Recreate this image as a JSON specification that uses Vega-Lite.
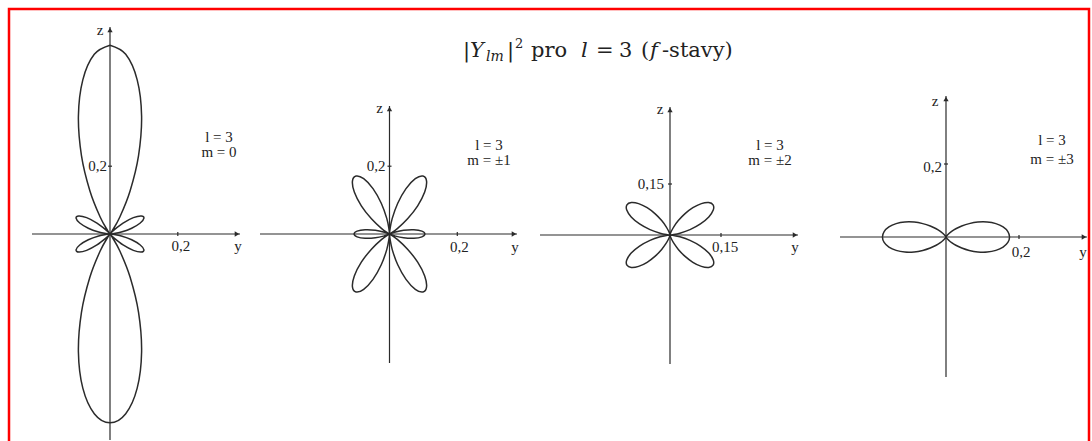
{
  "$schema": "https://vega.github.io/schema/vega-lite/v6.json",
  "width": 1080,
  "height": 440,
  "padding": {"left": 9, "top": 9, "right": 3, "bottom": 0},
  "autosize": {"type": "none"},
  "background": "white",
  "config": {
    "view": {"stroke": "#ff0000", "strokeWidth": 2.5},
    "mark": {"font": "Liberation Serif"},
    "text": {"font": "Liberation Serif", "fontSize": 15, "color": "#222222", "baseline": "middle", "align": "center"},
    "line": {"stroke": "#2b2b2b", "strokeWidth": 1.5, "interpolate": "cardinal"},
    "rule": {"stroke": "#2b2b2b", "strokeWidth": 1.2},
    "point": {"filled": true, "color": "#2b2b2b", "size": 28, "opacity": 1}
  },
  "datasets": {
    "m0": [
      {"k":0,"y":0,"z":0.557},{"k":1,"y":0.0464,"z":0.53},{"k":2,"y":0.0802,"z":0.4548},{"k":3,"y":0.0932,"z":0.348},{"k":4,"y":0.0842,"z":0.2314},{"k":5,"y":0.0592,"z":0.127},{"k":6,"y":0.0294,"z":0.0509},{"k":7,"y":0.0068,"z":0.0097},{"k":8,"y":0.0002,"z":0.0003},{"k":9,"y":0.0123,"z":0.0123},{"k":10,"y":0.0385,"z":0.0323},{"k":11,"y":0.0689,"z":0.0483},{"k":12,"y":0.0923,"z":0.0533},{"k":13,"y":0.1001,"z":0.0467},{"k":14,"y":0.0893,"z":0.0325},{"k":15,"y":0.064,"z":0.0171},{"k":16,"y":0.0336,"z":0.0059},{"k":17,"y":0.0092,"z":0.0008},{"k":18,"y":0,"z":0},
      {"k":19,"y":0.0092,"z":-0.0008},{"k":20,"y":0.0336,"z":-0.0059},{"k":21,"y":0.064,"z":-0.0171},{"k":22,"y":0.0893,"z":-0.0325},{"k":23,"y":0.1001,"z":-0.0467},{"k":24,"y":0.0923,"z":-0.0533},{"k":25,"y":0.0689,"z":-0.0483},{"k":26,"y":0.0385,"z":-0.0323},{"k":27,"y":0.0123,"z":-0.0123},{"k":28,"y":0.0002,"z":-0.0003},{"k":29,"y":0.0068,"z":-0.0097},{"k":30,"y":0.0294,"z":-0.0509},{"k":31,"y":0.0592,"z":-0.127},{"k":32,"y":0.0842,"z":-0.2314},{"k":33,"y":0.0932,"z":-0.348},{"k":34,"y":0.0802,"z":-0.4548},{"k":35,"y":0.0464,"z":-0.53},{"k":36,"y":0,"z":-0.557},
      {"k":37,"y":-0.0464,"z":-0.53},{"k":38,"y":-0.0802,"z":-0.4548},{"k":39,"y":-0.0932,"z":-0.348},{"k":40,"y":-0.0842,"z":-0.2314},{"k":41,"y":-0.0592,"z":-0.127},{"k":42,"y":-0.0294,"z":-0.0509},{"k":43,"y":-0.0068,"z":-0.0097},{"k":44,"y":-0.0002,"z":-0.0003},{"k":45,"y":-0.0123,"z":-0.0123},{"k":46,"y":-0.0385,"z":-0.0323},{"k":47,"y":-0.0689,"z":-0.0483},{"k":48,"y":-0.0923,"z":-0.0533},{"k":49,"y":-0.1001,"z":-0.0467},{"k":50,"y":-0.0893,"z":-0.0325},{"k":51,"y":-0.064,"z":-0.0171},{"k":52,"y":-0.0336,"z":-0.0059},{"k":53,"y":-0.0092,"z":-0.0008},{"k":54,"y":0,"z":0},
      {"k":55,"y":-0.0092,"z":0.0008},{"k":56,"y":-0.0336,"z":0.0059},{"k":57,"y":-0.064,"z":0.0171},{"k":58,"y":-0.0893,"z":0.0325},{"k":59,"y":-0.1001,"z":0.0467},{"k":60,"y":-0.0923,"z":0.0533},{"k":61,"y":-0.0689,"z":0.0483},{"k":62,"y":-0.0385,"z":0.0323},{"k":63,"y":-0.0123,"z":0.0123},{"k":64,"y":-0.0002,"z":0.0003},{"k":65,"y":-0.0068,"z":0.0097},{"k":66,"y":-0.0294,"z":0.0509},{"k":67,"y":-0.0592,"z":0.127},{"k":68,"y":-0.0842,"z":0.2314},{"k":69,"y":-0.0932,"z":0.348},{"k":70,"y":-0.0802,"z":0.4548},{"k":71,"y":-0.0464,"z":0.53},{"k":72,"y":0,"z":0.557}
    ],
    "m1": [
      {"k":0,"y":0,"z":0},{"k":1,"y":0.0011,"z":0.0124},{"k":2,"y":0.0081,"z":0.046},{"k":3,"y":0.0243,"z":0.0908},{"k":4,"y":0.0487,"z":0.1339},{"k":5,"y":0.0761,"z":0.1632},{"k":6,"y":0.0987,"z":0.171},{"k":7,"y":0.1093,"z":0.1561},{"k":8,"y":0.1038,"z":0.1237},{"k":9,"y":0.0831,"z":0.0831},{"k":10,"y":0.0533,"z":0.0448},{"k":11,"y":0.0239,"z":0.0167},{"k":12,"y":0.0042,"z":0.0024},{"k":13,"y":0.0009,"z":0.0004},{"k":14,"y":0.0149,"z":0.0054},{"k":15,"y":0.0416,"z":0.0112},{"k":16,"y":0.0719,"z":0.0127},{"k":17,"y":0.0956,"z":0.0084},{"k":18,"y":0.1044,"z":0},
      {"k":19,"y":0.0956,"z":-0.0084},{"k":20,"y":0.0719,"z":-0.0127},{"k":21,"y":0.0416,"z":-0.0112},{"k":22,"y":0.0149,"z":-0.0054},{"k":23,"y":0.0009,"z":-0.0004},{"k":24,"y":0.0042,"z":-0.0024},{"k":25,"y":0.0239,"z":-0.0167},{"k":26,"y":0.0533,"z":-0.0448},{"k":27,"y":0.0831,"z":-0.0831},{"k":28,"y":0.1038,"z":-0.1237},{"k":29,"y":0.1093,"z":-0.1561},{"k":30,"y":0.0987,"z":-0.171},{"k":31,"y":0.0761,"z":-0.1632},{"k":32,"y":0.0487,"z":-0.1339},{"k":33,"y":0.0243,"z":-0.0908},{"k":34,"y":0.0081,"z":-0.046},{"k":35,"y":0.0011,"z":-0.0124},{"k":36,"y":0,"z":0},
      {"k":37,"y":-0.0011,"z":-0.0124},{"k":38,"y":-0.0081,"z":-0.046},{"k":39,"y":-0.0243,"z":-0.0908},{"k":40,"y":-0.0487,"z":-0.1339},{"k":41,"y":-0.0761,"z":-0.1632},{"k":42,"y":-0.0987,"z":-0.171},{"k":43,"y":-0.1093,"z":-0.1561},{"k":44,"y":-0.1038,"z":-0.1237},{"k":45,"y":-0.0831,"z":-0.0831},{"k":46,"y":-0.0533,"z":-0.0448},{"k":47,"y":-0.0239,"z":-0.0167},{"k":48,"y":-0.0042,"z":-0.0024},{"k":49,"y":-0.0009,"z":-0.0004},{"k":50,"y":-0.0149,"z":-0.0054},{"k":51,"y":-0.0416,"z":-0.0112},{"k":52,"y":-0.0719,"z":-0.0127},{"k":53,"y":-0.0956,"z":-0.0084},{"k":54,"y":-0.1044,"z":0},
      {"k":55,"y":-0.0956,"z":0.0084},{"k":56,"y":-0.0719,"z":0.0127},{"k":57,"y":-0.0416,"z":0.0112},{"k":58,"y":-0.0149,"z":0.0054},{"k":59,"y":-0.0009,"z":0.0004},{"k":60,"y":-0.0042,"z":0.0024},{"k":61,"y":-0.0239,"z":0.0167},{"k":62,"y":-0.0533,"z":0.0448},{"k":63,"y":-0.0831,"z":0.0831},{"k":64,"y":-0.1038,"z":0.1237},{"k":65,"y":-0.1093,"z":0.1561},{"k":66,"y":-0.0987,"z":0.171},{"k":67,"y":-0.0761,"z":0.1632},{"k":68,"y":-0.0487,"z":0.1339},{"k":69,"y":-0.0243,"z":0.0908},{"k":70,"y":-0.0081,"z":0.046},{"k":71,"y":-0.0011,"z":0.0124},{"k":72,"y":0,"z":0}
    ],
    "m2": [
      {"k":0,"y":0,"z":0},{"k":1,"y":0,"z":0.0001},{"k":2,"y":0.0002,"z":0.0009},{"k":3,"y":0.0011,"z":0.0042},{"k":4,"y":0.0043,"z":0.0119},{"k":5,"y":0.0116,"z":0.0248},{"k":6,"y":0.0245,"z":0.0424},{"k":7,"y":0.0435,"z":0.0621},{"k":8,"y":0.0673,"z":0.0802},{"k":9,"y":0.0923,"z":0.0923},{"k":10,"y":0.1138,"z":0.0955},{"k":11,"y":0.1267,"z":0.0887},{"k":12,"y":0.1272,"z":0.0734},{"k":13,"y":0.1141,"z":0.0532},{"k":14,"y":0.0895,"z":0.0326},{"k":15,"y":0.0588,"z":0.0158},{"k":16,"y":0.0292,"z":0.0051},{"k":17,"y":0.0078,"z":0.0007},{"k":18,"y":0,"z":0},
      {"k":19,"y":0.0078,"z":-0.0007},{"k":20,"y":0.0292,"z":-0.0051},{"k":21,"y":0.0588,"z":-0.0158},{"k":22,"y":0.0895,"z":-0.0326},{"k":23,"y":0.1141,"z":-0.0532},{"k":24,"y":0.1272,"z":-0.0734},{"k":25,"y":0.1267,"z":-0.0887},{"k":26,"y":0.1138,"z":-0.0955},{"k":27,"y":0.0923,"z":-0.0923},{"k":28,"y":0.0673,"z":-0.0802},{"k":29,"y":0.0435,"z":-0.0621},{"k":30,"y":0.0245,"z":-0.0424},{"k":31,"y":0.0116,"z":-0.0248},{"k":32,"y":0.0043,"z":-0.0119},{"k":33,"y":0.0011,"z":-0.0042},{"k":34,"y":0.0002,"z":-0.0009},{"k":35,"y":0,"z":-0.0001},{"k":36,"y":0,"z":0},
      {"k":37,"y":0,"z":-0.0001},{"k":38,"y":-0.0002,"z":-0.0009},{"k":39,"y":-0.0011,"z":-0.0042},{"k":40,"y":-0.0043,"z":-0.0119},{"k":41,"y":-0.0116,"z":-0.0248},{"k":42,"y":-0.0245,"z":-0.0424},{"k":43,"y":-0.0435,"z":-0.0621},{"k":44,"y":-0.0673,"z":-0.0802},{"k":45,"y":-0.0923,"z":-0.0923},{"k":46,"y":-0.1138,"z":-0.0955},{"k":47,"y":-0.1267,"z":-0.0887},{"k":48,"y":-0.1272,"z":-0.0734},{"k":49,"y":-0.1141,"z":-0.0532},{"k":50,"y":-0.0895,"z":-0.0326},{"k":51,"y":-0.0588,"z":-0.0158},{"k":52,"y":-0.0292,"z":-0.0051},{"k":53,"y":-0.0078,"z":-0.0007},{"k":54,"y":0,"z":0},
      {"k":55,"y":-0.0078,"z":0.0007},{"k":56,"y":-0.0292,"z":0.0051},{"k":57,"y":-0.0588,"z":0.0158},{"k":58,"y":-0.0895,"z":0.0326},{"k":59,"y":-0.1141,"z":0.0532},{"k":60,"y":-0.1272,"z":0.0734},{"k":61,"y":-0.1267,"z":0.0887},{"k":62,"y":-0.1138,"z":0.0955},{"k":63,"y":-0.0923,"z":0.0923},{"k":64,"y":-0.0673,"z":0.0802},{"k":65,"y":-0.0435,"z":0.0621},{"k":66,"y":-0.0245,"z":0.0424},{"k":67,"y":-0.0116,"z":0.0248},{"k":68,"y":-0.0043,"z":0.0119},{"k":69,"y":-0.0011,"z":0.0042},{"k":70,"y":-0.0002,"z":0.0009},{"k":71,"y":0,"z":0.0001},{"k":72,"y":0,"z":0}
    ],
    "m3": [
      {"k":0,"y":0,"z":0},{"k":1,"y":0,"z":0.0001},{"k":2,"y":0.0001,"z":0.0003},{"k":3,"y":0.0004,"z":0.0009},{"k":4,"y":0.0014,"z":0.0024},{"k":5,"y":0.0036,"z":0.0051},{"k":6,"y":0.0079,"z":0.0094},{"k":7,"y":0.0154,"z":0.0154},{"k":8,"y":0.0269,"z":0.0226},{"k":9,"y":0.0431,"z":0.0302},{"k":10,"y":0.0636,"z":0.0367},{"k":11,"y":0.0874,"z":0.0408},{"k":12,"y":0.1126,"z":0.041},{"k":13,"y":0.1366,"z":0.0366},{"k":14,"y":0.1564,"z":0.0276},{"k":15,"y":0.1695,"z":0.0148},{"k":16,"y":0.1741,"z":0},
      {"k":17,"y":0.1695,"z":-0.0148},{"k":18,"y":0.1564,"z":-0.0276},{"k":19,"y":0.1366,"z":-0.0366},{"k":20,"y":0.1126,"z":-0.041},{"k":21,"y":0.0874,"z":-0.0408},{"k":22,"y":0.0636,"z":-0.0367},{"k":23,"y":0.0431,"z":-0.0302},{"k":24,"y":0.0269,"z":-0.0226},{"k":25,"y":0.0154,"z":-0.0154},{"k":26,"y":0.0079,"z":-0.0094},{"k":27,"y":0.0036,"z":-0.0051},{"k":28,"y":0.0014,"z":-0.0024},{"k":29,"y":0.0004,"z":-0.0009},{"k":30,"y":0.0001,"z":-0.0003},{"k":31,"y":0,"z":-0.0001},{"k":32,"y":0,"z":0},
      {"k":33,"y":0,"z":-0.0001},{"k":34,"y":-0.0001,"z":-0.0003},{"k":35,"y":-0.0004,"z":-0.0009},{"k":36,"y":-0.0014,"z":-0.0024},{"k":37,"y":-0.0036,"z":-0.0051},{"k":38,"y":-0.0079,"z":-0.0094},{"k":39,"y":-0.0154,"z":-0.0154},{"k":40,"y":-0.0269,"z":-0.0226},{"k":41,"y":-0.0431,"z":-0.0302},{"k":42,"y":-0.0636,"z":-0.0367},{"k":43,"y":-0.0874,"z":-0.0408},{"k":44,"y":-0.1126,"z":-0.041},{"k":45,"y":-0.1366,"z":-0.0366},{"k":46,"y":-0.1564,"z":-0.0276},{"k":47,"y":-0.1695,"z":-0.0148},{"k":48,"y":-0.1741,"z":0},
      {"k":49,"y":-0.1695,"z":0.0148},{"k":50,"y":-0.1564,"z":0.0276},{"k":51,"y":-0.1366,"z":0.0366},{"k":52,"y":-0.1126,"z":0.041},{"k":53,"y":-0.0874,"z":0.0408},{"k":54,"y":-0.0636,"z":0.0367},{"k":55,"y":-0.0431,"z":0.0302},{"k":56,"y":-0.0269,"z":0.0226},{"k":57,"y":-0.0154,"z":0.0154},{"k":58,"y":-0.0079,"z":0.0094},{"k":59,"y":-0.0036,"z":0.0051},{"k":60,"y":-0.0014,"z":0.0024},{"k":61,"y":-0.0004,"z":0.0009},{"k":62,"y":-0.0001,"z":0.0003},{"k":63,"y":0,"z":0.0001},{"k":64,"y":0,"z":0}
    ]
  },
  "layer": [
    {
      "data": {"values": [{}]},
      "layer": [
        {"data": {"name": "m0"}, "mark": "line", "encoding": {
          "x": {"field": "y", "type": "quantitative", "scale": {"domain": [-0.29794, 2.88791], "nice": false, "zero": false}, "axis": null},
          "y": {"field": "z", "type": "quantitative", "scale": {"domain": [-0.63422, 0.66372], "nice": false, "zero": false}, "axis": null},
          "order": {"field": "k"}}},
        {"mark": "rule", "encoding": {
          "x": {"datum": -0.2301, "type": "quantitative", "scale": {"domain": [-0.29794, 2.88791], "nice": false, "zero": false}, "axis": null},
          "x2": {"datum": 0.3835},
          "y": {"datum": 0, "type": "quantitative", "scale": {"domain": [-0.63422, 0.66372], "nice": false, "zero": false}, "axis": null}}},
        {"mark": "rule", "encoding": {
          "x": {"datum": 0, "type": "quantitative"},
          "y": {"datum": -0.6077, "type": "quantitative"},
          "y2": {"datum": 0.6106}}},
        {"mark": {"type": "point", "shape": "triangle-up", "yOffset": 3}, "encoding": {"x": {"datum": 0, "type": "quantitative"}, "y": {"datum": 0.6106, "type": "quantitative"}}},
        {"mark": {"type": "point", "shape": "triangle-right", "xOffset": -3}, "encoding": {"x": {"datum": 0.3835, "type": "quantitative"}, "y": {"datum": 0, "type": "quantitative"}}},
        {"mark": {"type": "rule", "yOffset": -2, "y2Offset": 2}, "encoding": {"x": {"datum": 0.2, "type": "quantitative"}, "y": {"datum": 0, "type": "quantitative"}, "y2": {"datum": 0}}},
        {"mark": {"type": "rule", "xOffset": -2, "x2Offset": 2}, "encoding": {"x": {"datum": 0, "type": "quantitative"}, "x2": {"datum": 0}, "y": {"datum": 0.2, "type": "quantitative"}}},
        {"mark": {"type": "text", "text": "z", "dx": -10, "dy": 3}, "encoding": {"x": {"datum": 0, "type": "quantitative"}, "y": {"datum": 0.6106, "type": "quantitative"}}},
        {"mark": {"type": "text", "text": "y", "dx": -2, "dy": 12}, "encoding": {"x": {"datum": 0.3835, "type": "quantitative"}, "y": {"datum": 0, "type": "quantitative"}}},
        {"mark": {"type": "text", "text": "0,2", "dx": 3, "dy": 12}, "encoding": {"x": {"datum": 0.2, "type": "quantitative"}, "y": {"datum": 0, "type": "quantitative"}}},
        {"mark": {"type": "text", "text": "0,2", "dx": -3, "align": "right"}, "encoding": {"x": {"datum": 0, "type": "quantitative"}, "y": {"datum": 0.2, "type": "quantitative"}}},
        {"mark": {"type": "text", "text": ["l = 3", "m = 0"], "lineHeight": 15}, "encoding": {"x": {"datum": 0.3215, "type": "quantitative"}, "y": {"datum": 0.2861, "type": "quantitative"}}}
      ]
    },
    {
      "data": {"values": [{}]},
      "layer": [
        {"data": {"name": "m1"}, "mark": "line", "encoding": {
          "x": {"field": "y", "type": "quantitative", "scale": {"domain": [-1.12242, 2.06342], "nice": false, "zero": false}, "axis": null},
          "y": {"field": "z", "type": "quantitative", "scale": {"domain": [-0.63422, 0.66372], "nice": false, "zero": false}, "axis": null},
          "order": {"field": "k"}}},
        {"mark": "rule", "encoding": {
          "x": {"datum": -0.382, "type": "quantitative", "scale": {"domain": [-1.12242, 2.06342], "nice": false, "zero": false}, "axis": null},
          "x2": {"datum": 0.3761},
          "y": {"datum": 0, "type": "quantitative", "scale": {"domain": [-0.63422, 0.66372], "nice": false, "zero": false}, "axis": null}}},
        {"mark": "rule", "encoding": {
          "x": {"datum": 0, "type": "quantitative"},
          "y": {"datum": -0.3805, "type": "quantitative"},
          "y2": {"datum": 0.3776}}},
        {"mark": {"type": "point", "shape": "triangle-up", "yOffset": 3}, "encoding": {"x": {"datum": 0, "type": "quantitative"}, "y": {"datum": 0.3776, "type": "quantitative"}}},
        {"mark": {"type": "point", "shape": "triangle-right", "xOffset": -3}, "encoding": {"x": {"datum": 0.3761, "type": "quantitative"}, "y": {"datum": 0, "type": "quantitative"}}},
        {"mark": {"type": "rule", "yOffset": -2, "y2Offset": 2}, "encoding": {"x": {"datum": 0.2, "type": "quantitative"}, "y": {"datum": 0, "type": "quantitative"}, "y2": {"datum": 0}}},
        {"mark": {"type": "rule", "xOffset": -2, "x2Offset": 2}, "encoding": {"x": {"datum": 0, "type": "quantitative"}, "x2": {"datum": 0}, "y": {"datum": 0.2, "type": "quantitative"}}},
        {"mark": {"type": "text", "text": "z", "dx": -10, "dy": 2}, "encoding": {"x": {"datum": 0, "type": "quantitative"}, "y": {"datum": 0.3776, "type": "quantitative"}}},
        {"mark": {"type": "text", "text": "y", "dx": -2, "dy": 13}, "encoding": {"x": {"datum": 0.3761, "type": "quantitative"}, "y": {"datum": 0, "type": "quantitative"}}},
        {"mark": {"type": "text", "text": "0,2", "dx": 2, "dy": 13}, "encoding": {"x": {"datum": 0.2, "type": "quantitative"}, "y": {"datum": 0, "type": "quantitative"}}},
        {"mark": {"type": "text", "text": "0,2", "dx": -4, "align": "right"}, "encoding": {"x": {"datum": 0, "type": "quantitative"}, "y": {"datum": 0.2, "type": "quantitative"}}},
        {"mark": {"type": "text", "text": ["l = 3", "m = ±1"], "lineHeight": 15}, "encoding": {"x": {"datum": 0.2935, "type": "quantitative"}, "y": {"datum": 0.2625, "type": "quantitative"}}}
      ]
    },
    {
      "data": {"values": [{}]},
      "layer": [
        {"data": {"name": "m2"}, "mark": "line", "encoding": {
          "x": {"field": "y", "type": "quantitative", "scale": {"domain": [-1.94412, 1.23235], "nice": false, "zero": false}, "axis": null},
          "y": {"field": "z", "type": "quantitative", "scale": {"domain": [-0.62941, 0.66471], "nice": false, "zero": false}, "axis": null},
          "order": {"field": "k"}}},
        {"mark": "rule", "encoding": {
          "x": {"datum": -0.3824, "type": "quantitative", "scale": {"domain": [-1.94412, 1.23235], "nice": false, "zero": false}, "axis": null},
          "x2": {"datum": 0.3765},
          "y": {"datum": 0, "type": "quantitative", "scale": {"domain": [-0.62941, 0.66471], "nice": false, "zero": false}, "axis": null}}},
        {"mark": "rule", "encoding": {
          "x": {"datum": 0, "type": "quantitative"},
          "y": {"datum": -0.3794, "type": "quantitative"},
          "y2": {"datum": 0.3765}}},
        {"mark": {"type": "point", "shape": "triangle-up", "yOffset": 3}, "encoding": {"x": {"datum": 0, "type": "quantitative"}, "y": {"datum": 0.3765, "type": "quantitative"}}},
        {"mark": {"type": "point", "shape": "triangle-right", "xOffset": -3}, "encoding": {"x": {"datum": 0.3765, "type": "quantitative"}, "y": {"datum": 0, "type": "quantitative"}}},
        {"mark": {"type": "rule", "yOffset": -2, "y2Offset": 2}, "encoding": {"x": {"datum": 0.15, "type": "quantitative"}, "y": {"datum": 0, "type": "quantitative"}, "y2": {"datum": 0}}},
        {"mark": {"type": "rule", "xOffset": -2, "x2Offset": 2}, "encoding": {"x": {"datum": 0, "type": "quantitative"}, "x2": {"datum": 0}, "y": {"datum": 0.15, "type": "quantitative"}}},
        {"mark": {"type": "text", "text": "z", "dx": -10, "dy": 2}, "encoding": {"x": {"datum": 0, "type": "quantitative"}, "y": {"datum": 0.3765, "type": "quantitative"}}},
        {"mark": {"type": "text", "text": "y", "dx": -3, "dy": 12}, "encoding": {"x": {"datum": 0.3765, "type": "quantitative"}, "y": {"datum": 0, "type": "quantitative"}}},
        {"mark": {"type": "text", "text": "0,15", "dx": 4, "dy": 12}, "encoding": {"x": {"datum": 0.15, "type": "quantitative"}, "y": {"datum": 0, "type": "quantitative"}}},
        {"mark": {"type": "text", "text": "0,15", "dx": -6, "align": "right"}, "encoding": {"x": {"datum": 0, "type": "quantitative"}, "y": {"datum": 0.15, "type": "quantitative"}}},
        {"mark": {"type": "text", "text": ["l = 3", "m = ±2"], "lineHeight": 15}, "encoding": {"x": {"datum": 0.2941, "type": "quantitative"}, "y": {"datum": 0.2647, "type": "quantitative"}}},
        {"mark": {"type": "text", "text": "|", "font": "DejaVu Serif", "fontSize": 21, "align": "left", "baseline": "alphabetic"}, "encoding": {"x": {"datum": -0.6088, "type": "quantitative"}, "y": {"datum": 0.5235, "type": "quantitative"}}},
        {"mark": {"type": "text", "text": "Y", "font": "DejaVu Serif", "fontStyle": "italic", "fontSize": 21, "align": "left", "baseline": "alphabetic", "dx": 7}, "encoding": {"x": {"datum": -0.6088, "type": "quantitative"}, "y": {"datum": 0.5235, "type": "quantitative"}}},
        {"mark": {"type": "text", "text": "lm", "font": "DejaVu Serif", "fontStyle": "italic", "fontSize": 14, "align": "left", "baseline": "alphabetic", "dx": 23, "dy": 4}, "encoding": {"x": {"datum": -0.6088, "type": "quantitative"}, "y": {"datum": 0.5235, "type": "quantitative"}}},
        {"mark": {"type": "text", "text": "|", "font": "DejaVu Serif", "fontSize": 21, "align": "left", "baseline": "alphabetic", "dx": 44}, "encoding": {"x": {"datum": -0.6088, "type": "quantitative"}, "y": {"datum": 0.5235, "type": "quantitative"}}},
        {"mark": {"type": "text", "text": "2", "font": "DejaVu Serif", "fontSize": 13, "align": "left", "baseline": "alphabetic", "dx": 52, "dy": -9}, "encoding": {"x": {"datum": -0.6088, "type": "quantitative"}, "y": {"datum": 0.5235, "type": "quantitative"}}},
        {"mark": {"type": "text", "text": "pro", "font": "DejaVu Serif", "fontSize": 21, "align": "left", "baseline": "alphabetic", "dx": 68}, "encoding": {"x": {"datum": -0.6088, "type": "quantitative"}, "y": {"datum": 0.5235, "type": "quantitative"}}},
        {"mark": {"type": "text", "text": "l", "font": "DejaVu Serif", "fontStyle": "italic", "fontSize": 21, "align": "left", "baseline": "alphabetic", "dx": 118}, "encoding": {"x": {"datum": -0.6088, "type": "quantitative"}, "y": {"datum": 0.5235, "type": "quantitative"}}},
        {"mark": {"type": "text", "text": "=", "font": "DejaVu Serif", "fontSize": 21, "align": "left", "baseline": "alphabetic", "dx": 133}, "encoding": {"x": {"datum": -0.6088, "type": "quantitative"}, "y": {"datum": 0.5235, "type": "quantitative"}}},
        {"mark": {"type": "text", "text": "3", "font": "DejaVu Serif", "fontSize": 21, "align": "left", "baseline": "alphabetic", "dx": 156}, "encoding": {"x": {"datum": -0.6088, "type": "quantitative"}, "y": {"datum": 0.5235, "type": "quantitative"}}},
        {"mark": {"type": "text", "text": "(", "font": "DejaVu Serif", "fontSize": 21, "align": "left", "baseline": "alphabetic", "dx": 178}, "encoding": {"x": {"datum": -0.6088, "type": "quantitative"}, "y": {"datum": 0.5235, "type": "quantitative"}}},
        {"mark": {"type": "text", "text": "f", "font": "DejaVu Serif", "fontStyle": "italic", "fontSize": 21, "align": "left", "baseline": "alphabetic", "dx": 187}, "encoding": {"x": {"datum": -0.6088, "type": "quantitative"}, "y": {"datum": 0.5235, "type": "quantitative"}}},
        {"mark": {"type": "text", "text": "-stavy)", "font": "DejaVu Serif", "fontSize": 21, "align": "left", "baseline": "alphabetic", "dx": 199}, "encoding": {"x": {"datum": -0.6088, "type": "quantitative"}, "y": {"datum": 0.5235, "type": "quantitative"}}}
      ]
    },
    {
      "data": {"values": [{}]},
      "layer": [
        {"data": {"name": "m3"}, "mark": "line", "encoding": {
          "x": {"field": "y", "type": "quantitative", "scale": {"domain": [-2.56712, 0.39178], "nice": false, "zero": false}, "axis": null},
          "y": {"field": "z", "type": "quantitative", "scale": {"domain": [-0.58082, 0.62466], "nice": false, "zero": false}, "axis": null},
          "order": {"field": "k"}}},
        {"mark": "rule", "encoding": {
          "x": {"datum": -0.2904, "type": "quantitative", "scale": {"domain": [-2.56712, 0.39178], "nice": false, "zero": false}, "axis": null},
          "x2": {"datum": 0.3863},
          "y": {"datum": 0, "type": "quantitative", "scale": {"domain": [-0.58082, 0.62466], "nice": false, "zero": false}, "axis": null}}},
        {"mark": "rule", "encoding": {
          "x": {"datum": 0, "type": "quantitative"},
          "y": {"datum": -0.3836, "type": "quantitative"},
          "y2": {"datum": 0.3863}}},
        {"mark": {"type": "point", "shape": "triangle-up", "yOffset": 3}, "encoding": {"x": {"datum": 0, "type": "quantitative"}, "y": {"datum": 0.3863, "type": "quantitative"}}},
        {"mark": {"type": "point", "shape": "triangle-right", "xOffset": -3}, "encoding": {"x": {"datum": 0.3863, "type": "quantitative"}, "y": {"datum": 0, "type": "quantitative"}}},
        {"mark": {"type": "rule", "yOffset": -2, "y2Offset": 2}, "encoding": {"x": {"datum": 0.2, "type": "quantitative"}, "y": {"datum": 0, "type": "quantitative"}, "y2": {"datum": 0}}},
        {"mark": {"type": "rule", "xOffset": -2, "x2Offset": 2}, "encoding": {"x": {"datum": 0, "type": "quantitative"}, "x2": {"datum": 0}, "y": {"datum": 0.2, "type": "quantitative"}}},
        {"mark": {"type": "text", "text": "z", "dx": -11, "dy": 5}, "encoding": {"x": {"datum": 0, "type": "quantitative"}, "y": {"datum": 0.3863, "type": "quantitative"}}},
        {"mark": {"type": "text", "text": "y", "dx": -4, "dy": 15}, "encoding": {"x": {"datum": 0.3863, "type": "quantitative"}, "y": {"datum": 0, "type": "quantitative"}}},
        {"mark": {"type": "text", "text": "0,2", "dx": 2, "dy": 15}, "encoding": {"x": {"datum": 0.2, "type": "quantitative"}, "y": {"datum": 0, "type": "quantitative"}}},
        {"mark": {"type": "text", "text": "0,2", "dx": -4, "dy": 3, "align": "right"}, "encoding": {"x": {"datum": 0, "type": "quantitative"}, "y": {"datum": 0.2, "type": "quantitative"}}},
        {"mark": {"type": "text", "text": ["l = 3", "m = ±3"], "lineHeight": 19}, "encoding": {"x": {"datum": 0.2904, "type": "quantitative"}, "y": {"datum": 0.2658, "type": "quantitative"}}}
      ]
    }
  ],
  "resolve": {"scale": {"x": "independent", "y": "independent"}}
}
